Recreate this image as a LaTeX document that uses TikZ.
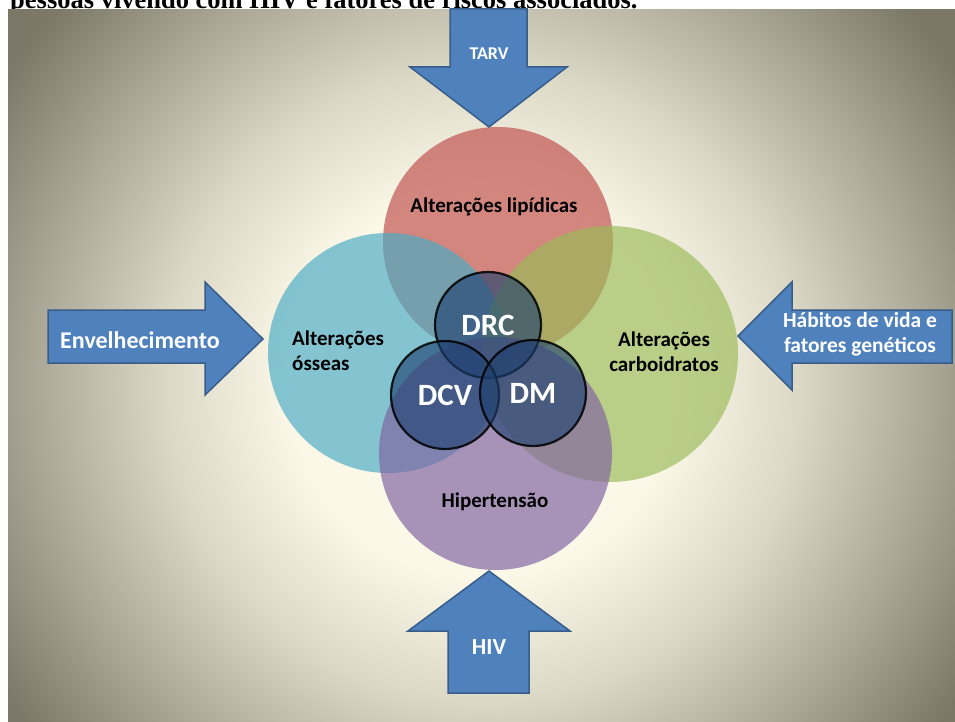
\documentclass[tikz,border=0pt]{standalone}
\usepackage{fontspec}
\setmainfont{Carlito}
\newfontfamily\titlefont{Liberation Serif}
\usepackage{tikz}
\usetikzlibrary{calc}
\definecolor{ArrowBlue}{HTML}{4F81BD}
\definecolor{ArrowEdge}{HTML}{385D8A}
\definecolor{LipidRed}{HTML}{C0504D}
\definecolor{BoneAqua}{HTML}{4BACC6}
\definecolor{CarbGreen}{HTML}{9BBB59}
\definecolor{PressPurple}{HTML}{8064A2}
\definecolor{CoreBlue}{HTML}{1C3F6E}
\definecolor{BgCenter}{HTML}{FBF8E8}
\definecolor{BgMidA}{HTML}{DCD8C6}
\definecolor{BgMidB}{HTML}{A8A595}
\definecolor{BgEdge}{HTML}{7B7868}
\pgfdeclareradialshading{bgglow}{\pgfpoint{0bp}{0bp}}{color(0bp)=(BgCenter); color(8bp)=(BgCenter); color(13.2bp)=(BgMidA); color(18.9bp)=(BgMidB); color(23.7bp)=(BgEdge); color(50bp)=(BgEdge)}

\begin{document}
\begin{tikzpicture}[x=1pt, y=-1pt,
    bigdisc/.style={circle, inner sep=0pt, minimum size=#1, fill opacity=0.68},
    coredisc/.style={circle, inner sep=0pt, minimum size=#1, fill=CoreBlue, fill opacity=0.62,
        draw=black, draw opacity=0.85, line width=2.2pt, text=white, text opacity=1,
        font=\bfseries\fontsize{31}{33}\selectfont},
    labeltext/.style={text=black, font=\bfseries\fontsize{21}{25}\selectfont, inner sep=0pt},
    blockarrow/.style={fill=ArrowBlue, draw=ArrowEdge, line width=1.5pt, line join=miter},
    arrowtext/.style={text=white, font=\bfseries\fontsize{#1}{25}\selectfont, inner sep=0pt, align=center}]
    \useasboundingbox (0,0) rectangle (955,722);
    \clip (0,0) rectangle (955,722);
    %%Title line, cut at the top
    \node[anchor=base west, inner sep=0pt, font=\titlefont\bfseries\fontsize{26.5}{30}\selectfont]
        (title) at (10,8.3) {pessoas vivendo com HIV e fatores de riscos associados.};
    %%Background
    \begin{scope}
        \clip (8,10) rectangle (955,722);
        \shade[shading=bgglow] (-118,-215) rectangle (1082,985);
    \end{scope}
    %%Big circles
    \node[bigdisc=230pt, fill=LipidRed] (lipid) at (498,242) {};
    \node[bigdisc=240pt, fill=BoneAqua] (bone) at (388,353) {};
    \node[bigdisc=256pt, fill=CarbGreen] (carb) at (610,354) {};
    \node[bigdisc=233pt, fill=PressPurple] (press) at (495.5,453.5) {};
    %%Small circles
    \node[coredisc=106pt] (drc) at (488,325) {DRC};
    \node[coredisc=108pt] (dcv) at (445,395) {DCV};
    \node[coredisc=106pt] (dm) at (533,393) {DM};
    %%Circle labels
    \node[labeltext] (lipidtxt) at (494,207) {Alterações lipídicas};
    \node[labeltext, anchor=west, align=left] (bonetxt) at (292,351) {Alterações\\ósseas};
    \node[labeltext, align=center] (carbtxt) at (664,352) {Alterações\\carboidratos};
    \node[labeltext] (presstxt) at (495,502) {Hipertensão};
    %%Arrow TARV
    \draw[blockarrow] (450,9) -- (527,9) -- (527,67) -- (567,67) -- (489,127) -- (410,67) -- (450,67) -- cycle;
    \node[arrowtext=18] (tarv) at (489,54) {TARV};
    %%Arrow Envelhecimento
    \draw[blockarrow] (48,310) -- (205,310) -- (205,282) -- (263,339) -- (205,395) -- (205,363) -- (48,363) -- cycle;
    \node[arrowtext=24] (aging) at (140,340) {Envelhecimento};
    %%Arrow habits
    \draw[blockarrow] (952,310) -- (792,310) -- (792,282) -- (738,336) -- (792,390) -- (792,363) -- (952,363) -- cycle;
    \node[arrowtext=21.5] (habits) at (860,334) {Hábitos de vida e\\fatores genéticos};
    %%Arrow HIV
    \draw[blockarrow] (448,693) -- (448,631) -- (408,631) -- (489,571) -- (570,631) -- (529,631) -- (529,693) -- cycle;
    \node[arrowtext=23] (hiv) at (489,647) {HIV};
\end{tikzpicture}
\end{document}
